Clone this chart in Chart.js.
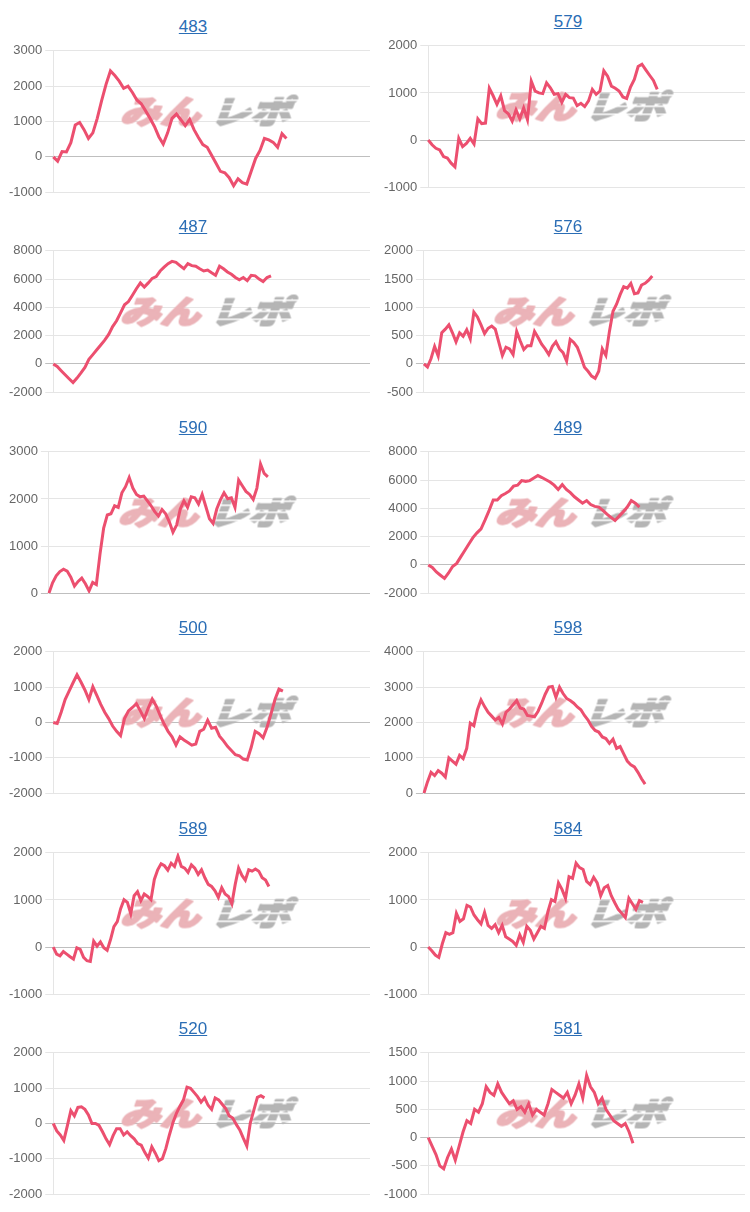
<!DOCTYPE html>
<html>
<head>
<meta charset="utf-8">
<script src="https://cdn.jsdelivr.net/npm/chart.js@4.4.0/dist/chart.umd.min.js"></script>
<style>
    body { margin: 0; background: #fff; width: 750px; height: 1212px; position: relative; overflow: hidden; font-family: "Liberation Sans", Arial, sans-serif; }
    .cell { position: absolute; width: 364px; height: 203px; }
    .cell a { position: absolute; left: 5px; width: 100%; top: 17px; text-align: center; color: #2a6db5; font-size: 17px; line-height: 20px; text-decoration: underline; }
    .cell canvas { position: absolute; left: 0; top: 40px; }
</style>
</head>
<body>
<script>
// 台番号
const titles = ['483', '579', '487', '576', '590', '489', '500', '598', '589', '584', '520', '581'];

// 差枚の推移
const diff483 = [0, -120, 150, 140, 400, 900, 970, 770, 520, 680, 1090, 1590, 2050, 2430, 2300, 2140, 1940, 2000, 1820, 1610, 1500, 1300, 1090, 860, 570, 360, 680, 1090, 1210, 1050, 880, 1060, 770, 545, 345, 270, 45, -180, -410, -450, -590, -820, -620, -730, -770, -410, -45, 180, 520, 480, 410, 270, 655, 520];
const diff579 = [0, -100, -175, -210, -350, -380, -490, -570, 35, -140, -70, 35, -85, 450, 350, 360, 1100, 940, 760, 940, 625, 555, 400, 640, 450, 680, 430, 1250, 1040, 1000, 985, 1215, 1110, 970, 985, 800, 970, 900, 890, 730, 780, 710, 830, 1075, 970, 1040, 1470, 1355, 1145, 1100, 1040, 915, 880, 1125, 1285, 1560, 1610, 1490, 1375, 1265, 1075];
const diff487 = [0, -180, -480, -770, -1050, -1320, -1000, -640, -250, 320, 660, 1000, 1340, 1680, 2090, 2640, 3050, 3610, 4180, 4410, 4860, 5320, 5730, 5430, 5730, 6050, 6180, 6570, 6840, 7090, 7250, 7180, 6950, 6730, 7090, 6950, 6910, 6730, 6570, 6640, 6450, 6270, 6910, 6730, 6500, 6340, 6110, 5950, 6110, 5890, 6270, 6230, 6000, 5820, 6110, 6230];
const diff576 = [0, -55, 95, 310, 140, 550, 615, 690, 550, 390, 550, 490, 605, 445, 915, 830, 690, 535, 630, 670, 615, 380, 150, 295, 265, 165, 575, 405, 255, 320, 320, 575, 465, 350, 265, 165, 310, 390, 265, 200, 50, 435, 380, 295, 125, -60, -130, -215, -255, -130, 265, 150, 575, 930, 1055, 1225, 1365, 1340, 1425, 1240, 1255, 1395, 1425, 1480, 1555];
const diff590 = [0, 220, 370, 460, 510, 470, 340, 150, 250, 320, 200, 50, 230, 185, 830, 1380, 1660, 1685, 1855, 1820, 2130, 2260, 2455, 2230, 2095, 2045, 2060, 1960, 1855, 1730, 1640, 1775, 1685, 1515, 1295, 1445, 1785, 1960, 1820, 2045, 2025, 1890, 2095, 1840, 1580, 1480, 1785, 1980, 2130, 2005, 2025, 1820, 2400, 2280, 2160, 2095, 1990, 2230, 2740, 2540, 2470];
const diff489 = [0, -180, -500, -730, -950, -570, -110, 110, 570, 1020, 1480, 1930, 2270, 2550, 3180, 3860, 4590, 4590, 4890, 5050, 5230, 5570, 5640, 5960, 5910, 5960, 6140, 6320, 6180, 6020, 5860, 5640, 5340, 5680, 5340, 5110, 4820, 4590, 4360, 4550, 4270, 4140, 4090, 3860, 3590, 3360, 3140, 3450, 3750, 4090, 4550, 4360, 4090];
const diff500 = [0, -30, 290, 650, 890, 1125, 1350, 1145, 920, 650, 1010, 765, 515, 290, 110, -100, -250, -370, 110, 330, 425, 530, 330, 110, 405, 665, 470, 200, -45, -250, -405, -640, -405, -495, -565, -640, -610, -250, -190, 65, -160, -135, -385, -520, -675, -790, -910, -945, -1035, -1060, -700, -250, -315, -430, -135, 245, 650, 945, 890];
const diff598 = [0, 320, 590, 500, 640, 565, 455, 1000, 910, 820, 1070, 980, 1270, 1980, 1910, 2360, 2640, 2450, 2290, 2180, 2070, 2140, 1955, 2290, 2380, 2500, 2620, 2410, 2380, 2200, 2180, 2160, 2320, 2545, 2800, 3000, 3020, 2710, 3000, 2820, 2680, 2620, 2545, 2440, 2360, 2200, 2070, 1890, 1775, 1730, 1590, 1545, 1410, 1530, 1270, 1320, 1110, 910, 800, 745, 590, 410, 255];
const diff589 = [0, -150, -185, -95, -150, -205, -255, -15, -50, -220, -290, -305, 125, 20, 110, -15, -70, 160, 435, 540, 815, 1005, 950, 710, 1090, 1175, 985, 1125, 1075, 1005, 1435, 1640, 1765, 1725, 1630, 1780, 1710, 1930, 1710, 1675, 1585, 1745, 1675, 1540, 1640, 1470, 1330, 1285, 1195, 1055, 1260, 1125, 1075, 920, 1330, 1675, 1520, 1420, 1640, 1610, 1655, 1610, 1470, 1420, 1285];
const diff584 = [0, -80, -170, -220, 70, 305, 270, 305, 715, 545, 600, 885, 850, 680, 580, 490, 735, 460, 395, 475, 305, 460, 220, 170, 120, 35, 260, 100, 440, 355, 170, 305, 440, 395, 750, 1005, 965, 1360, 1225, 1035, 1495, 1460, 1780, 1685, 1645, 1395, 1325, 1480, 1360, 1090, 1260, 1305, 1090, 940, 800, 715, 625, 1035, 920, 800, 985, 950];
const diff520 = [0, -210, -325, -480, -70, 360, 215, 455, 470, 400, 245, 0, 0, -55, -235, -435, -600, -345, -145, -145, -325, -235, -345, -435, -570, -615, -815, -980, -660, -840, -1050, -995, -705, -325, 20, 290, 490, 670, 1030, 995, 880, 760, 605, 725, 515, 400, 725, 670, 545, 425, 215, 155, -25, -180, -415, -635, 20, 380, 740, 785, 725];
const diff581 = [0, -150, -300, -500, -550, -350, -200, -400, -150, 100, 300, 250, 500, 450, 600, 900, 800, 750, 950, 800, 700, 600, 650, 500, 550, 450, 600, 400, 500, 450, 400, 600, 850, 800, 750, 700, 800, 600, 750, 950, 700, 1100, 900, 800, 600, 700, 500, 400, 300, 250, 200, 250, 100, -100];

const series = [diff483, diff579, diff487, diff576, diff590, diff489, diff500, diff598, diff589, diff584, diff520, diff581];

// x軸の枠数 (グラフ全体の幅)
const slotCounts = [73, 84, 81, 91, 89, 79, 81, 91, 95, 91, 91, 83];

// y軸の目盛り
const yMins = [-1000, -1000, -2000, -500, 0, -2000, -2000, 0, -1000, -1000, -2000, -1000];
const yMaxs = [3000, 2000, 8000, 2000, 3000, 8000, 2000, 4000, 2000, 2000, 2000, 1500];
const ySteps = [1000, 1000, 2000, 500, 1000, 2000, 1000, 1000, 1000, 1000, 1000, 500];

// 透かしロゴ
const logo = document.createElement('canvas');
logo.width = 200;
logo.height = 40;
(function () {
    const c = logo.getContext('2d');
    c.setTransform(1, 0, -0.3, 0.8, 12, 0);
    c.font = '900 40px "Noto Sans CJK JP"';
    c.textBaseline = 'middle';
    c.lineJoin = 'round';
    c.lineWidth = 2.5;
    c.fillStyle = c.strokeStyle = '#ebb3b8';
    c.fillText('みん', 8, 25);
    c.strokeText('みん', 8, 25);
    c.fillStyle = c.strokeStyle = '#b5b5b5';
    c.fillText('レポ', 98, 25);
    c.strokeText('レポ', 98, 25);
    c.setTransform(1, 0, 0, 1, 0, 0);
    c.globalCompositeOperation = 'destination-out';
    c.fillStyle = '#000';
    c.fillRect(95, 12, 40, 1.5);
    c.fillRect(100, 19, 95, 1.5);
    c.fillRect(95, 27, 100, 1.5);
    c.fillRect(140, 8, 50, 1.5);
})();

const watermark = {
    id: 'watermark',
    beforeDatasetsDraw(chart) {
        const a = chart.chartArea;
        const cx = (a.left + a.right) / 2;
        const cy = (a.top + a.bottom) / 2 - 10;
        chart.ctx.drawImage(logo, cx - 100, cy - 20);
    }
};

titles.forEach((title, i) => {
    const col = i % 2;
    const row = Math.floor(i / 2);
    const cell = document.createElement('div');
    cell.className = 'cell';
    cell.style.left = (col * 375 + 6) + 'px';
    cell.style.top = (row * 200.4 - (i === 1 ? 5 : 0)) + 'px';
    const link = document.createElement('a');
    link.href = '#';
    link.textContent = title;
    const canvas = document.createElement('canvas');
    canvas.width = 364;
    canvas.height = 163;
    cell.appendChild(link);
    cell.appendChild(canvas);
    document.body.appendChild(cell);

    const labels = [];
    for (let k = 0; k < slotCounts[i]; k++) labels.push(k + 1);

    new Chart(canvas, {
        type: 'line',
        data: {
            labels: labels,
            datasets: [{
                data: series[i],
                borderColor: '#ec4f6f',
                borderWidth: 3,
                pointRadius: 0,
                pointHoverRadius: 0,
                tension: 0,
                fill: false
            }]
        },
        options: {
            responsive: false,
            animation: false,
            layout: { padding: 0 },
            plugins: {
                legend: { display: false },
                tooltip: { enabled: false }
            },
            scales: {
                x: { display: false },
                y: {
                    min: yMins[i],
                    max: yMaxs[i],
                    ticks: {
                        stepSize: ySteps[i],
                        color: '#666',
                        font: { family: '"Liberation Sans", Arial, sans-serif', size: 13 },
                        callback: (v) => String(v)
                    },
                    grid: {
                        color: (ctx) => ctx.tick && ctx.tick.value === 0 ? 'rgba(0,0,0,0.25)' : 'rgba(0,0,0,0.1)'
                    },
                    border: { color: 'rgba(0,0,0,0.1)' }
                }
            }
        },
        plugins: [watermark]
    });
});
</script>
</body>
</html>
